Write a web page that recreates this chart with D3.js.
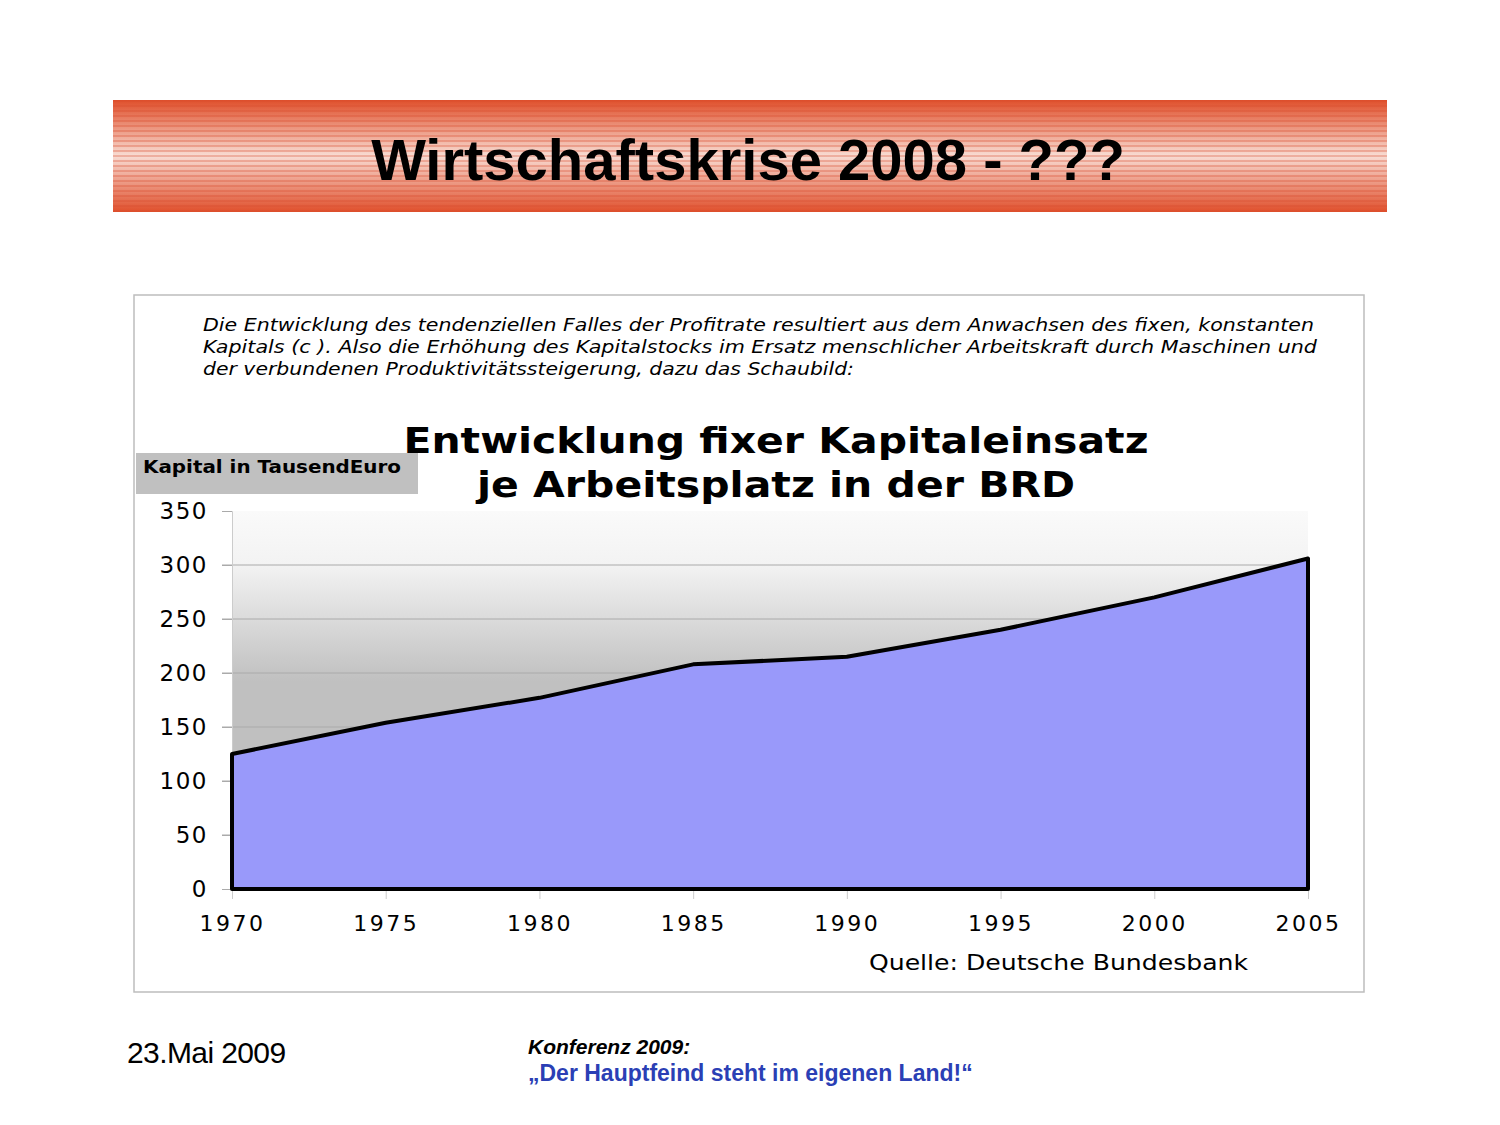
<!DOCTYPE html>
<html>
<head>
<meta charset="utf-8">
<script src="https://cdn.jsdelivr.net/npm/d3@7"></script>
<style>
  body { margin: 0; background: #fff; }
  svg { display: block; }
</style>
</head>
<body>
<script>
// data
const years = [1970, 1975, 1980, 1985, 1990, 1995, 2000, 2005];
const kapital = [125, 154, 177, 208, 215, 240, 270, 306];
const yTicks = [0, 50, 100, 150, 200, 250, 300, 350];
const descLines = [
  "Die Entwicklung des tendenziellen Falles der Profitrate resultiert aus dem Anwachsen des fixen, konstanten",
  "Kapitals (c ). Also die Erhöhung des Kapitalstocks im Ersatz menschlicher Arbeitskraft durch Maschinen und",
  "der verbundenen Produktivitätssteigerung, dazu das Schaubild:"
];
const descWidths = [1111, 1114, 651];
const titleLines = ["Entwicklung fixer Kapitaleinsatz", "je Arbeitsplatz in der BRD"];
const titleWidths = [745, 598];

const W = 1500, H = 1125;
const svg = d3.select("body").append("svg").attr("width", W).attr("height", H);
const defs = svg.append("defs");

// banner gradient + stripes
const bannerGrad = defs.append("linearGradient").attr("id", "bannerGrad")
  .attr("x1", 0).attr("y1", 0).attr("x2", 0).attr("y2", 1);
bannerGrad.append("stop").attr("offset", "0%").attr("stop-color", "#e0502c");
bannerGrad.append("stop").attr("offset", "50%").attr("stop-color", "#f8dcd3");
bannerGrad.append("stop").attr("offset", "100%").attr("stop-color", "#e0502c");

const stripes = defs.append("pattern").attr("id", "stripes")
  .attr("patternUnits", "userSpaceOnUse").attr("width", 10).attr("height", 5);
stripes.append("rect").attr("width", 10).attr("height", 2)
  .attr("fill", "#d94a2a").attr("opacity", 0.3);

svg.append("rect").attr("x", 113).attr("y", 100).attr("width", 1274).attr("height", 112)
  .attr("fill", "url(#bannerGrad)");
svg.append("rect").attr("x", 113).attr("y", 100).attr("width", 1274).attr("height", 112)
  .attr("fill", "url(#stripes)");

svg.append("text").attr("x", 748).attr("y", 180)
  .attr("text-anchor", "middle")
  .style("font-family", "Liberation Sans, Arial, sans-serif")
  .style("font-weight", "bold").style("font-size", "58px")
  .text("Wirtschaftskrise 2008 - ???");

// chart frame
svg.append("rect").attr("x", 134).attr("y", 295).attr("width", 1230).attr("height", 697)
  .attr("fill", "#fff").attr("stroke", "#bdbdbd").attr("stroke-width", 1.5);

svg.selectAll(".desc").data(descLines).enter().append("text")
  .attr("class", "desc")
  .attr("x", 203).attr("y", (d, i) => 331 + i * 22)
  .attr("textLength", (d, i) => descWidths[i])
  .attr("lengthAdjust", "spacingAndGlyphs")
  .style("font-family", "DejaVu Sans, sans-serif")
  .style("font-style", "italic").style("font-size", "17px")
  .text(d => d);

svg.selectAll(".ctitle").data(titleLines).enter().append("text")
  .attr("class", "ctitle")
  .attr("x", (d, i) => 776 - titleWidths[i] / 2).attr("y", (d, i) => 453 + i * 44)
  .attr("textLength", (d, i) => titleWidths[i])
  .attr("lengthAdjust", "spacingAndGlyphs")
  .style("font-family", "DejaVu Sans, sans-serif")
  .style("font-weight", "bold").style("font-size", "35px")
  .text(d => d);

// y label box
svg.append("rect").attr("x", 136).attr("y", 453).attr("width", 282).attr("height", 41)
  .attr("fill", "#c0c0c0");
svg.append("text").attr("x", 143).attr("y", 473)
  .attr("textLength", 258).attr("lengthAdjust", "spacingAndGlyphs")
  .style("font-family", "DejaVu Sans, sans-serif")
  .style("font-weight", "bold").style("font-size", "17px")
  .text("Kapital in TausendEuro");

// plot
const pLeft = 232, pRight = 1308, pTop = 511, pBottom = 889;
const x = d3.scaleLinear().domain([1970, 2005]).range([pLeft, pRight]);
const y = d3.scaleLinear().domain([0, 350]).range([pBottom, pTop]);

const bgGrad = defs.append("linearGradient").attr("id", "bgGrad")
  .attr("x1", 0).attr("y1", 0).attr("x2", 0).attr("y2", 1);
bgGrad.append("stop").attr("offset", "0%").attr("stop-color", "#fafafa");
bgGrad.append("stop").attr("offset", "14%").attr("stop-color", "#f3f3f3");
bgGrad.append("stop").attr("offset", "45%").attr("stop-color", "#c0c0c0");
bgGrad.append("stop").attr("offset", "100%").attr("stop-color", "#c0c0c0");

svg.append("rect").attr("x", pLeft).attr("y", pTop)
  .attr("width", pRight - pLeft).attr("height", pBottom - pTop)
  .attr("fill", "url(#bgGrad)");

// gridlines
svg.selectAll(".grid").data(yTicks.filter(d => d > 0 && d < 350)).enter().append("line")
  .attr("x1", pLeft - 10).attr("x2", pRight)
  .attr("y1", d => y(d)).attr("y2", d => y(d))
  .attr("stroke", "#aaaaaa").attr("stroke-width", 1);

const yAxis = svg.append("g").attr("transform", `translate(${pLeft},0)`)
  .call(d3.axisLeft(y).tickValues(yTicks).tickSize(10).tickPadding(14));
yAxis.select(".domain").attr("stroke", "#cccccc");
yAxis.selectAll(".tick line").attr("stroke", "#aaaaaa");
yAxis.selectAll("text")
  .style("font-family", "DejaVu Sans, sans-serif").style("font-size", "23px")
  .style("letter-spacing", "1.5px").attr("fill", "#000");

const xAxis = svg.append("g").attr("transform", `translate(0,${pBottom})`)
  .call(d3.axisBottom(x).tickValues(years).tickFormat(d3.format("d")).tickSize(10).tickPadding(16));
xAxis.select(".domain").remove();
xAxis.selectAll(".tick line").attr("stroke", "#cccccc");
xAxis.selectAll("text")
  .style("font-family", "DejaVu Sans, sans-serif").style("font-size", "22px")
  .style("letter-spacing", "2.5px").attr("fill", "#000");

const pts = years.map((yr, i) => ({ year: yr, value: kapital[i] }));
const area = d3.area()
  .x(d => x(d.year))
  .y0(y(0))
  .y1(d => y(d.value));
svg.append("path").datum(pts)
  .attr("d", area)
  .attr("fill", "#9999fa").attr("stroke", "#000").attr("stroke-width", 4)
  .attr("stroke-linejoin", "round");

svg.append("text").attr("x", 869).attr("y", 970)
  .attr("textLength", 379).attr("lengthAdjust", "spacingAndGlyphs")
  .style("font-family", "DejaVu Sans, sans-serif").style("font-size", "22px")
  .text("Quelle: Deutsche Bundesbank");

// footer
svg.append("text").attr("x", 127).attr("y", 1063)
  .style("font-family", "Liberation Sans, Arial, sans-serif").style("font-size", "30px")
  .style("letter-spacing", "-0.6px")
  .text("23.Mai 2009");
svg.append("text").attr("x", 528).attr("y", 1054)
  .style("font-family", "Liberation Sans, Arial, sans-serif").style("font-size", "21px")
  .style("font-weight", "bold").style("font-style", "italic")
  .text("Konferenz 2009:");
svg.append("text").attr("x", 528).attr("y", 1081)
  .style("font-family", "Liberation Sans, Arial, sans-serif").style("font-size", "23px")
  .style("font-weight", "bold").attr("fill", "#2b3fb5")
  .text("„Der Hauptfeind steht im eigenen Land!“");
</script>
</body>
</html>
